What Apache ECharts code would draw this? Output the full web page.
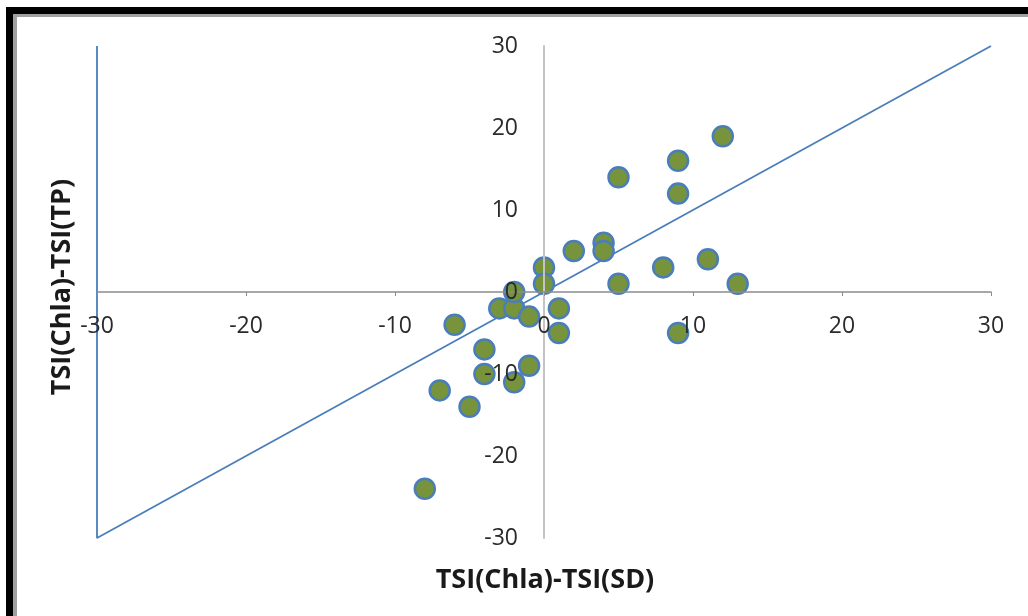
<!DOCTYPE html>
<html lang="en">
  <head>
    <meta charset="UTF-8" />
    <title>TSI deviation plot</title>
    <script src="https://cdn.jsdelivr.net/npm/echarts@6/dist/echarts.min.js"></script>
    <style>
      * { margin: 0; padding: 0; box-sizing: border-box; }
      body { background: #fff; overflow: hidden; }
      #chart { width: 1028px; height: 616px; }
    </style>
  </head>
  <body>
    <div id="chart"></div>
    <script>
      // TSI(Chla)-TSI(SD) vs TSI(Chla)-TSI(TP)
      const xVals = [-8, -7, -5, -6, -4, -4, -3, -2, -2, -1, -1, -2, 0, 0, 1, 1, 2, 4, 4, 5, 5, 8, 9, 9, 9, 11, 12, 13];
      const yVals = [-24, -12, -14, -4, -7, -10, -2, -2, 0, -3, -9, -11, 3, 1, -2, -5, 5, 6, 5, 14, 1, 3, 16, 12, -5, 4, 19, 1];
      // reference guide: left edge then 1:1 diagonal
      const guideX = [-30, -30, 30];
      const guideY = [30, -30, 30];
      const xTitle = "TSI(Chla)-TSI(SD)";
      const yTitle = "TSI(Chla)-TSI(TP)";

      const points = xVals.map((x, i) => [x, yVals[i]]);
      const guide = guideX.map((x, i) => [x, guideY[i]]);

      const W = 1028, H = 616;
      const grid = { left: 97, right: 37, top: 46, bottom: 78 };
      const gridW = W - grid.left - grid.right;
      const gridH = H - grid.top - grid.bottom;

      const chart = echarts.init(document.getElementById("chart"));
      const labelFont = { fontFamily: "Open Sans", fontSize: 23, color: "#2a2a2a" };

      // axes cross at the centre of the symmetric range (0, 0);
      // onZero labels stay at the grid edge in v6, so shift the axes by offset
      chart.setOption({
        animation: false,
        grid: grid,
        xAxis: {
          type: "value",
          min: -30,
          max: 30,
          interval: 10,
          z: 5,
          offset: -gridH / 2,
          splitLine: { show: false },
          axisLine: { onZero: false, lineStyle: { color: "#8c8c8c", width: 1.5 } },
          axisTick: { show: true, length: 4, lineStyle: { color: "#8c8c8c" } },
          axisLabel: Object.assign({ margin: 23 }, labelFont),
        },
        yAxis: {
          type: "value",
          min: -30,
          max: 30,
          interval: 10,
          z: 5,
          offset: -gridW / 2,
          splitLine: { show: false },
          axisLine: { onZero: false, lineStyle: { color: "#c4c4c4", width: 2 } },
          axisTick: { show: false },
          axisLabel: Object.assign({ margin: 26 }, labelFont),
        },
        graphic: [
          // black frame on the left and top, with a soft grey edge
          { type: "rect", shape: { x: 13, y: 14, width: 4, height: 602 }, style: { fill: "#a0a0a0" } },
          { type: "rect", shape: { x: 13, y: 14, width: 1015, height: 3 }, style: { fill: "#a0a0a0" } },
          { type: "rect", shape: { x: 6, y: 7, width: 7, height: 609 }, style: { fill: "#000" } },
          { type: "rect", shape: { x: 6, y: 7, width: 1022, height: 7 }, style: { fill: "#000" } },
          {
            type: "text",
            x: 545,
            y: 580,
            style: {
              text: xTitle,
              font: "bold 27px 'Open Sans'",
              fill: "#1a1a1a",
              align: "center",
              verticalAlign: "middle",
            },
          },
          {
            type: "text",
            x: 62,
            y: 287,
            rotation: Math.PI / 2,
            style: {
              text: yTitle,
              font: "bold 27px 'Open Sans'",
              fill: "#1a1a1a",
              align: "center",
              verticalAlign: "middle",
            },
          },
        ],
        series: [
          {
            type: "line",
            data: guide,
            symbol: "none",
            z: 1,
            lineStyle: { color: "#4a7ebb", width: 1.8 },
          },
          {
            type: "scatter",
            data: points,
            symbolSize: 20,
            z: 2,
            itemStyle: { color: "#77933c", borderColor: "#4a7ebb", borderWidth: 2.5, opacity: 1 },
          },
        ],
      });
    </script>
  </body>
</html>
